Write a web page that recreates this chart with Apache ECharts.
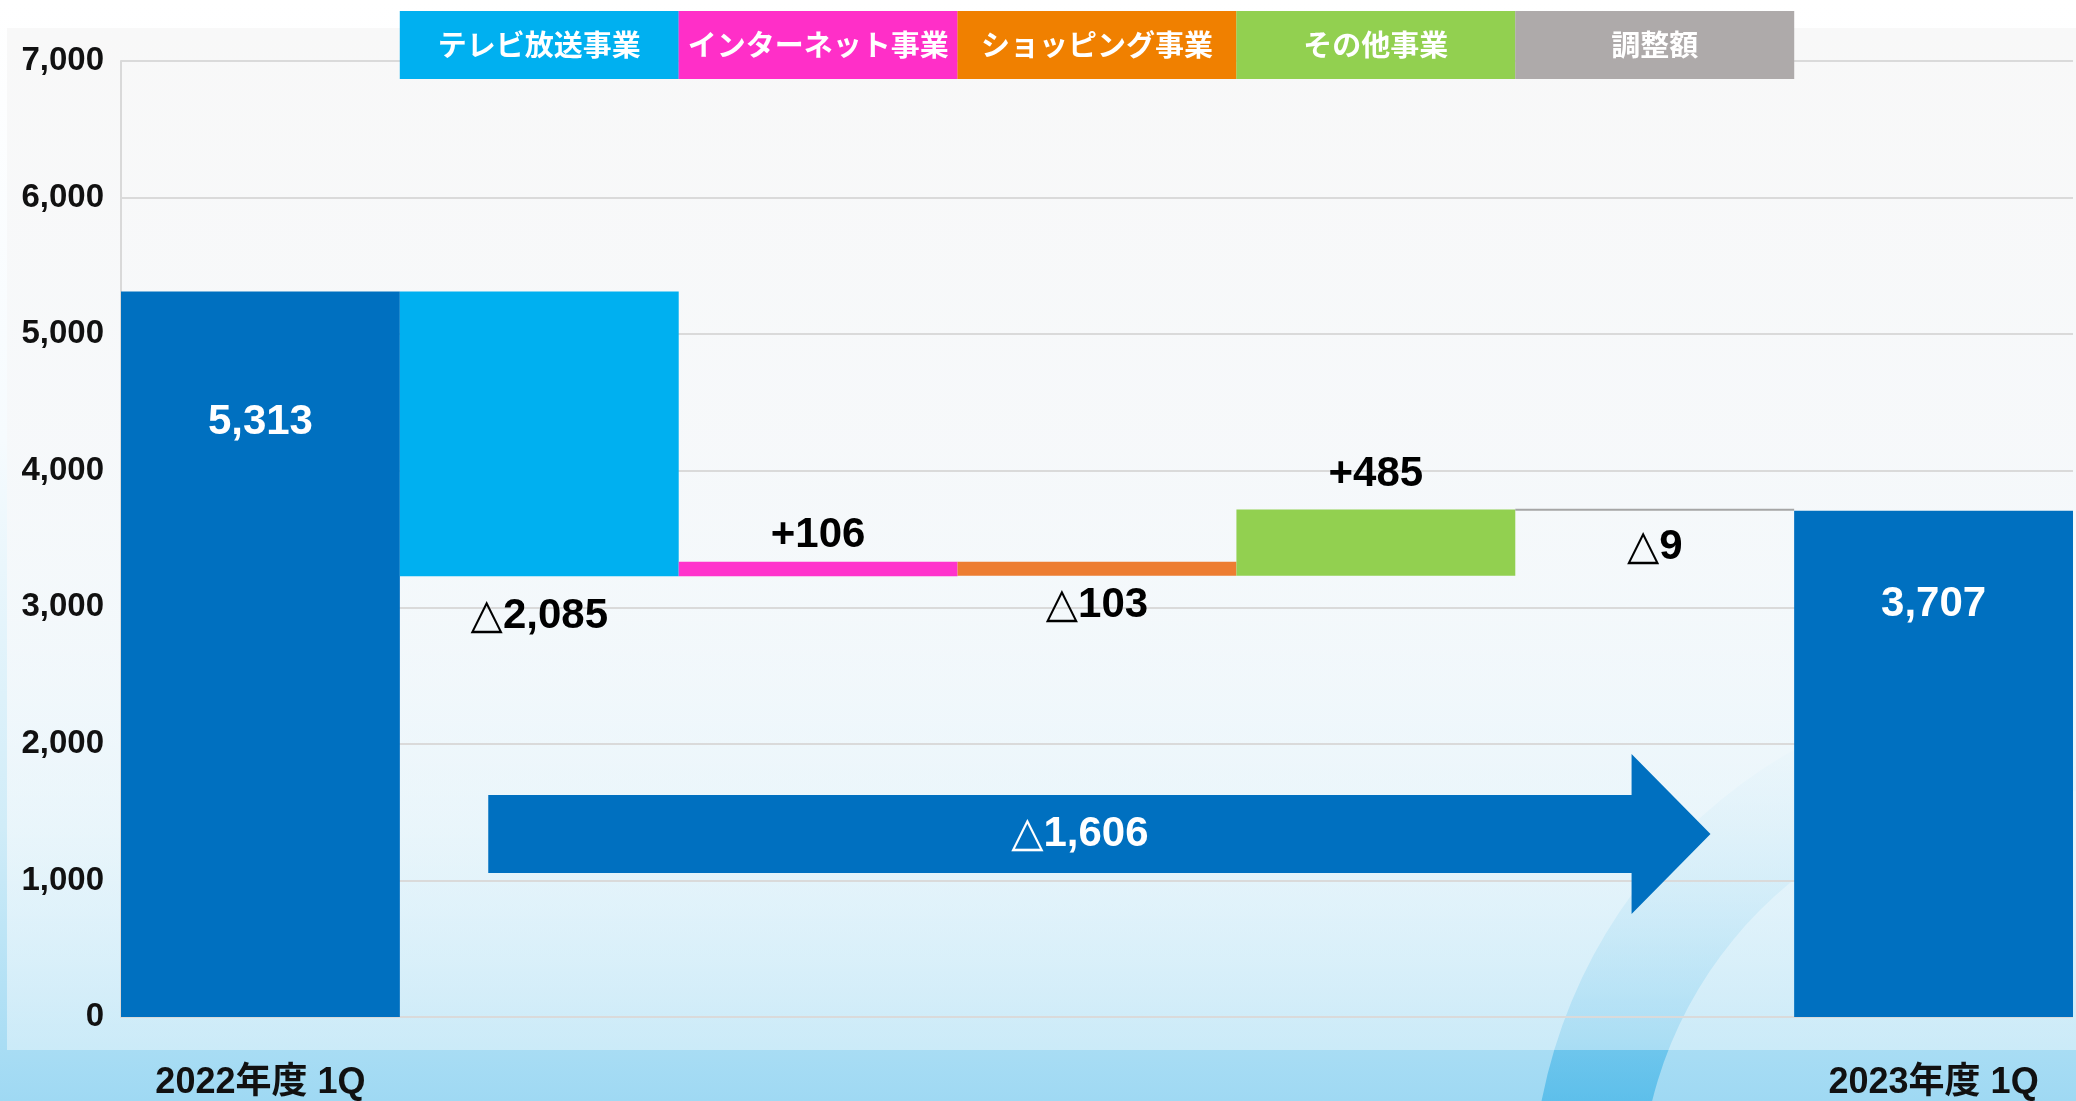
<!DOCTYPE html>
<html>
<head>
<meta charset="utf-8">
<title>売上高 増減</title>
<script src="https://cdn.jsdelivr.net/npm/echarts@6/dist/echarts.min.js"></script>
<style>
html, body { margin: 0; padding: 0; background: #fff; }
#main { width: 2076px; height: 1101px; }
</style>
</head>
<body>
<div id="main"></div>
<script>
// data
const categories = ['2022年度 1Q', 'テレビ放送事業', 'インターネット事業', 'ショッピング事業', 'その他事業', '調整額', '2023年度 1Q'];
const startTotal = 5313;
const deltas = [-2085, 106, -103, 485, -9];
const endTotal = 3707;
const yMin = 0, yMax = 7000, yStep = 1000;

// styles
const barColors = ['#0070c0', '#00b0f0', '#ff33cc', '#ed7d31', '#92d050', '#a6a6a6', '#0070c0'];
const headColors = ['', '#00b0f0', '#ff2fc8', '#f08000', '#92d050', '#aeaaaa', ''];
// [label position, distance] for each column
const labelPlace = [['insideTop', 110], ['bottom', 19], ['top', 5], ['bottom', 9], ['top', 14], ['bottom', 16], ['insideTop', 73]];
const arrowLevel = 1340;
const FONT = '"Liberation Sans", "DejaVu Sans", "Noto Sans CJK JP", sans-serif';
const CJK = '"Noto Sans CJK JP", sans-serif';

function fmt(n) {
    return Math.abs(n).toLocaleString('en-US');
}

// running totals -> invisible base + visible part
const base = [0], height = [startTotal], texts = [fmt(startTotal)];
let run = startTotal;
deltas.forEach(d => {
    const next = run + d;
    base.push(Math.min(run, next));
    height.push(Math.abs(d));
    texts.push((d >= 0 ? '+' : '△') + fmt(d));
    run = next;
});
base.push(0);
height.push(endTotal);
texts.push(fmt(endTotal));

const last = categories.length - 1;

const rich = {};
headColors.forEach((c, i) => {
    if (!c) return;
    rich['h' + i] = {
        width: 279, height: 68, lineHeight: 68, align: 'center',
        backgroundColor: c, color: '#fff',
        fontSize: 29, fontWeight: 'bold', fontFamily: CJK
    };
});

const chart = echarts.init(document.getElementById('main'));

const option = {
    animation: false,
    graphic: {
        elements: [
            {
                type: 'rect', z: -30, silent: true,
                shape: { x: 0, y: 0, width: 2076, height: 1101 },
                style: {
                    fill: new echarts.graphic.LinearGradient(0, 0, 0, 1, [
                        { offset: 0, color: '#ffffff' },
                        { offset: 0.4, color: '#f6fbfe' },
                        { offset: 0.75, color: '#d0ecf8' },
                        { offset: 1, color: '#9fd9f3' }
                    ])
                }
            },
            {
                type: 'ring', z: -20, silent: true,
                shape: { cx: 2050, cy: 1200, r: 518, r0: 410 },
                style: {
                    fill: new echarts.graphic.LinearGradient(0, 700, 0, 1101, [
                        { offset: 0, color: 'rgba(60,180,230,0)' },
                        { offset: 0.5, color: 'rgba(50,175,230,0.22)' },
                        { offset: 1, color: 'rgba(40,170,228,0.55)' }
                    ], true)
                }
            },
            {
                type: 'rect', z: -10, silent: true,
                shape: { x: 7, y: 28, width: 2069, height: 1022 },
                style: {
                    fill: new echarts.graphic.LinearGradient(0, 0, 0, 1, [
                        { offset: 0, color: 'rgba(248,248,248,1)' },
                        { offset: 0.45, color: 'rgba(246,248,250,0.85)' },
                        { offset: 1, color: 'rgba(255,255,255,0.4)' }
                    ])
                }
            }
        ]
    },
    grid: {
        left: 121,
        right: 3,
        top: 61,
        bottom: 84
    },
    xAxis: [
        {
            type: 'category',
            data: categories,
            axisLine: { show: false },
            axisTick: { show: false },
            axisLabel: {
                interval: 0,
                margin: 48,
                fontSize: 36,
                lineHeight: 36,
                fontWeight: 'bold',
                fontFamily: FONT,
                color: '#111',
                formatter: (v, i) => (i === 0 || i === last) ? v : ''
            }
        },
        {
            type: 'category',
            position: 'top',
            data: categories,
            axisLine: { show: false },
            axisTick: { show: false },
            splitLine: { show: false },
            axisLabel: {
                interval: 0,
                margin: -18,
                rich: rich,
                formatter: (v, i) => headColors[i] ? '{h' + i + '|' + v + '}' : ''
            }
        }
    ],
    yAxis: {
        type: 'value',
        min: yMin,
        max: yMax,
        interval: yStep,
        axisLine: { show: true, lineStyle: { color: '#d9d9d9', width: 2 } },
        axisTick: { show: false },
        splitLine: { lineStyle: { color: '#dadada', width: 2 } },
        axisLabel: {
            margin: 17,
            fontSize: 33,
            fontWeight: 'bold',
            fontFamily: FONT,
            color: '#111',
            formatter: v => v.toLocaleString('en-US')
        }
    },
    series: [
        {
            name: 'base',
            type: 'bar',
            stack: 'w',
            barWidth: '100%',
            barCategoryGap: '0%',
            itemStyle: { color: 'transparent' },
            emphasis: { disabled: true },
            data: base
        },
        {
            name: 'value',
            type: 'bar',
            stack: 'w',
            barWidth: '100%',
            barCategoryGap: '0%',
            barMinHeight: 2,
            label: {
                show: true,
                fontSize: 42,
                lineHeight: 42,
                fontWeight: 'bold',
                fontFamily: FONT
            },
            data: height.map((h, i) => {
                const total = i === 0 || i === last;
                return {
                    value: h,
                    itemStyle: { color: barColors[i] },
                    label: {
                        position: labelPlace[i][0],
                        distance: labelPlace[i][1],
                        color: total ? '#fff' : '#000',
                        formatter: texts[i]
                    }
                };
            })
        },
        {
            name: 'arrow',
            type: 'custom',
            encode: { x: [0, 1], y: 2 },
            data: [[1, last - 1, arrowLevel, endTotal - startTotal]],
            renderItem: function (params, api) {
                const a = api.coord([api.value(0), api.value(2)]);
                const b = api.coord([api.value(1), api.value(2)]);
                const bw = api.size([1, 0])[0];
                const x0 = a[0] - 0.183 * bw;
                const xh = b[0] - 0.083 * bw;
                const xt = b[0] + 0.2 * bw;
                const y = a[1];
                const sh = 39, hh = 80;
                return {
                    type: 'group',
                    children: [
                        {
                            type: 'polygon',
                            shape: {
                                points: [[x0, y - sh], [xh, y - sh], [xh, y - hh], [xt, y], [xh, y + hh], [xh, y + sh], [x0, y + sh]]
                            },
                            style: { fill: '#0070c0' }
                        },
                        {
                            type: 'text',
                            x: (x0 + xt) / 2 - 0.07 * bw,
                            y: y,
                            style: {
                                text: '△' + fmt(api.value(3)),
                                fill: '#fff',
                                fontSize: 42,
                                fontWeight: 'bold',
                                fontFamily: FONT,
                                align: 'center',
                                verticalAlign: 'middle'
                            }
                        }
                    ]
                };
            }
        }
    ]
};

option && chart.setOption(option);
</script>
</body>
</html>
